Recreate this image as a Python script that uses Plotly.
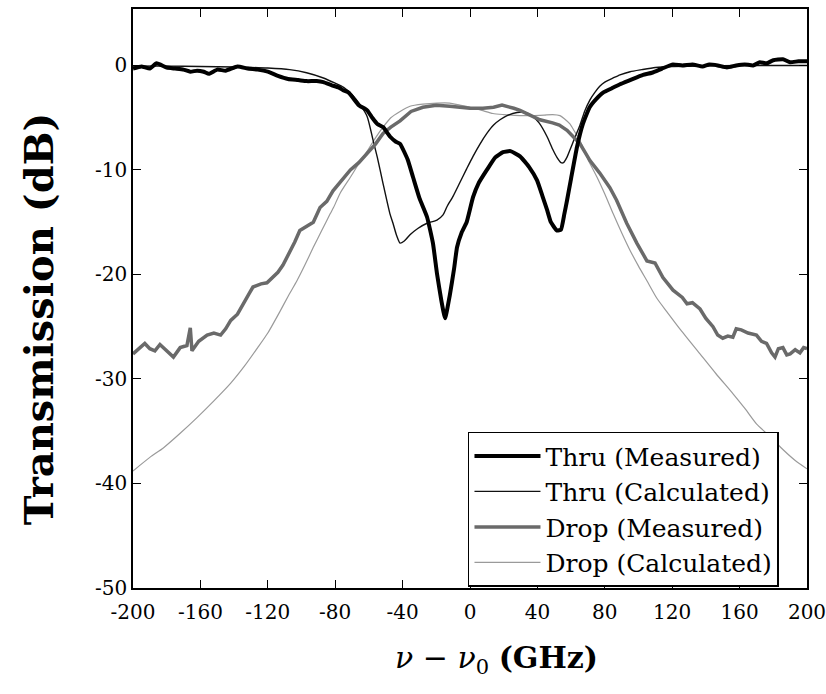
import plotly.graph_objects as go

# Thru port, measured (GHz detuning, dB)
thru_meas_x = [-200, -195, -190, -186, -180, -175, -170, -166, -162, -158, -155, -150, -145, -138,
               -132, -126, -120, -114, -108, -102, -97, -91, -87, -82, -78, -75, -72, -69, -66, -61,
               -58, -55, -51.6, -47.5, -44, -41.5, -37, -33.8, -30, -25.5, -22, -19.6, -17, -14.8,
               -12, -9.5, -7.7, -5, -2, 1.8, 5, 10, 15, 19.6, 24, 29.7, 35, 39.8, 43, 45.7, 48, 51.6,
               54, 56, 57.6, 60, 63.5, 67, 71, 75, 79, 84, 89, 95, 102.7, 108, 114, 120.5, 126, 132,
               138, 142, 147, 152.5, 158, 163, 168, 172, 176, 180, 185.7, 190, 195, 200]
thru_meas_y = [-0.3, -0.1, -0.3, 0.2, -0.2, -0.3, -0.4, -0.6, -0.5, -0.6, -0.8, -0.4, -0.5, -0.1,
               -0.3, -0.4, -0.6, -1.0, -1.3, -1.4, -1.5, -1.5, -1.6, -1.9, -2.1, -2.4, -2.6, -3.2,
               -3.8, -4.3, -5.0, -5.6, -5.9, -6.8, -7.3, -7.5, -9.0, -10.7, -12.7, -14.5, -17.0,
               -19.9, -22.5, -24.2, -22.0, -19.5, -17.4, -16.0, -15.0, -12.6, -11.3, -10.0, -8.8,
               -8.3, -8.2, -8.7, -9.7, -11.0, -12.5, -13.8, -15.0, -15.8, -15.7, -14.2, -12.9,
               -10.8, -7.8, -5.6, -4.0, -3.2, -2.6, -2.2, -1.8, -1.4, -0.9, -0.7, -0.3, 0.1, 0.0,
               0.1, -0.1, 0.1, 0.0, -0.2, 0.0, 0.1, 0.0, 0.3, 0.2, 0.5, 0.6, 0.3, 0.4, 0.4]

# Thru port, calculated
thru_calc_x = [-200, -180, -160, -140, -120, -107, -97, -87, -80, -75, -70, -65, -61, -57.6, -55,
               -51.6, -47.5, -45.7, -43.5, -41.5, -39, -35.6, -31, -25.5, -19.6, -16, -13.6, -10,
               -6, -2, 1.8, 6, 10, 14, 17.8, 22, 27.9, 33, 37.4, 41, 45.7, 49, 51.6, 54, 55.5, 57.5,
               59.3, 62, 65.3, 68, 71.2, 74, 77, 80, 85, 89, 95, 102, 110, 120, 140, 160, 200]
thru_calc_y = [-0.05, -0.07, -0.1, -0.15, -0.25, -0.4, -0.7, -1.2, -1.7, -2.1, -2.8, -3.8, -4.9,
               -7.1, -8.8, -11.3, -14.2, -15.1, -16.3, -17.0, -16.8, -16.2, -15.6, -15.1, -14.8,
               -14.3, -13.5, -12.5, -11.2, -9.9, -8.7, -7.5, -6.5, -5.7, -5.2, -4.8, -4.5, -4.5,
               -4.9, -5.5, -6.8, -8.0, -8.8, -9.3, -9.3, -8.8, -8.1, -7.0, -5.7, -4.4, -3.3, -2.6,
               -2.0, -1.6, -1.2, -0.9, -0.6, -0.4, -0.2, -0.1, -0.05, 0.0, 0.0]

# Drop port, measured
drop_meas_x = [-200, -196, -193, -190, -187, -184, -180, -176, -172, -168, -166, -165, -161, -156,
               -152, -148, -145, -142, -138, -134.7, -131, -128.8, -124, -120.5, -117, -114, -111,
               -108.6, -104, -101, -96, -93, -89, -85, -81.3, -76, -71, -66, -61, -56, -51.6, -47,
               -41.5, -35, -28, -20, -12, -6, 0, 7.7, 14, 19, 22, 26, 29.7, 35, 41.5, 49, 53, 57.6,
               61, 65.3, 71.2, 77, 83, 87, 93, 99, 105, 109.8, 114.5, 120.5, 126, 128.8, 132, 136.5,
               140, 144.2, 147, 150, 153, 156, 158, 161, 165, 170, 173, 176, 179, 181, 183, 185.7,
               188, 190, 193, 195.8, 198, 200]
drop_meas_y = [-27.6, -27.0, -26.6, -27.1, -27.3, -26.7, -27.3, -27.9, -27.0, -26.8, -25.1, -27.3,
               -26.4, -25.8, -25.6, -25.8, -25.2, -24.4, -23.8, -22.8, -21.8, -21.2, -20.9, -20.8,
               -20.3, -19.8, -19.1, -18.4, -16.9, -15.8, -15.3, -15.0, -13.6, -13.0, -12.0, -11.0,
               -10.0, -9.3, -8.4, -7.5, -6.5, -5.9, -5.3, -4.4, -4.0, -3.8, -3.9, -4.0, -4.1, -4.1,
               -4.0, -3.8, -3.9, -4.1, -4.3, -4.7, -5.2, -5.5, -5.7, -6.2, -6.8, -7.5, -9.1, -10.3,
               -11.7, -12.9, -15.1, -17.0, -18.7, -18.9, -20.3, -21.5, -22.2, -22.8, -22.7, -23.3,
               -24.2, -25.0, -25.8, -26.1, -25.9, -26.0, -25.2, -25.3, -25.6, -25.8, -26.4, -26.6,
               -27.5, -27.9, -27.1, -27.0, -27.7, -27.6, -27.2, -27.5, -27.0, -27.1]

# Drop port, calculated
drop_calc_x = [-200, -190, -182, -172, -162, -152, -142, -134, -126, -120, -113, -108, -102.7, -98,
               -93, -88, -83, -81, -77, -71, -66, -61, -56, -51.6, -47, -41.5, -35.6, -28, -19.6,
               -12, -6, 0, 7, 13.6, 20, 29.7, 37, 44, 49, 53.4, 56, 59.3, 62, 65.3, 70, 75.4, 80, 85,
               90, 95, 100, 105, 111, 117, 125, 136.5, 146, 156, 163, 170, 178, 186, 193, 200]
drop_calc_y = [-38.8, -37.5, -36.6, -35.2, -33.7, -32.1, -30.4, -28.8, -27.0, -25.6, -23.6, -22.1,
               -20.6, -19.1, -17.4, -15.8, -14.2, -13.6, -12.2, -10.7, -9.4, -8.2, -6.9, -5.9, -5.0,
               -4.4, -3.9, -3.7, -3.6, -3.6, -3.8, -4.0, -4.3, -4.6, -4.7, -4.8, -4.8, -4.75, -4.7,
               -4.8, -5.1, -5.6, -6.3, -7.2, -9.0, -10.7, -12.3, -14.2, -16.0, -17.7, -19.2, -20.6,
               -22.3, -23.6, -25.3, -27.6, -29.5, -31.4, -32.8, -34.3, -35.5, -36.8, -37.8, -38.6]

x_ticks = [-200, -160, -120, -80, -40, 0, 40, 80, 120, 160, 200]
y_ticks = [0, -10, -20, -30, -40, -50]

SERIF = "DejaVu Serif, Liberation Serif, serif"

fig = go.Figure()
# thin (calculated) curves first so the measured traces sit on top
fig.add_trace(go.Scatter(x=drop_calc_x, y=drop_calc_y, mode="lines", name="Drop (Calculated)",
                         line=dict(color="#9a9a9a", width=1.2, shape="spline", smoothing=0.6),
                         legendrank=4))
fig.add_trace(go.Scatter(x=thru_calc_x, y=thru_calc_y, mode="lines", name="Thru (Calculated)",
                         line=dict(color="#111111", width=1.4, shape="spline", smoothing=0.6),
                         legendrank=2))
fig.add_trace(go.Scatter(x=drop_meas_x, y=drop_meas_y, mode="lines", name="Drop (Measured)",
                         line=dict(color="#6a6a6a", width=3.5), legendrank=3))
fig.add_trace(go.Scatter(x=thru_meas_x, y=thru_meas_y, mode="lines", name="Thru (Measured)",
                         line=dict(color="#000000", width=4, shape="spline", smoothing=0.4),
                         legendrank=1))

axis_common = dict(showline=True, linecolor="black", linewidth=1.5, mirror="ticks",
                   ticks="inside", ticklen=8, tickwidth=1.2, tickcolor="black",
                   showgrid=False, zeroline=False, ticklabeloverflow="allow", automargin=False,
                   tickfont=dict(family=SERIF, size=20, color="black"))

fig.update_layout(
    width=826, height=694,
    margin=dict(l=133, r=19, t=9, b=106, autoexpand=False),
    paper_bgcolor="white", plot_bgcolor="white",
    font=dict(family=SERIF, color="black"),
    xaxis=dict(range=[-200, 200], tickvals=x_ticks, ticktext=[str(v) for v in x_ticks],
               ticklabelstandoff=5, **axis_common),
    yaxis=dict(range=[-50, 5.4], tickvals=y_ticks, ticktext=[str(v) for v in y_ticks],
               **axis_common),
    legend=dict(x=0.497, y=0.27, xanchor="left", yanchor="top",
                bgcolor="white", bordercolor="black", borderwidth=1.5,
                font=dict(family=SERIF, size=25, color="black"),
                tracegroupgap=0, itemwidth=66),
    showlegend=True,
    annotations=[
        dict(text="<b>Transmission (dB)</b>", textangle=-90, xref="paper", yref="paper",
             x=-0.141, y=0.466, xanchor="center", yanchor="middle", showarrow=False,
             font=dict(family=SERIF, size=40, color="black")),
        dict(text="<i>ν</i> − <i>ν</i><sub>0</sub> <b>(GHz)</b>", xref="paper", yref="paper",
             x=0.539, y=-0.124, xanchor="center", yanchor="middle", showarrow=False,
             font=dict(family=SERIF, size=30, color="black")),
    ],
)

fig.write_html("out.html")
